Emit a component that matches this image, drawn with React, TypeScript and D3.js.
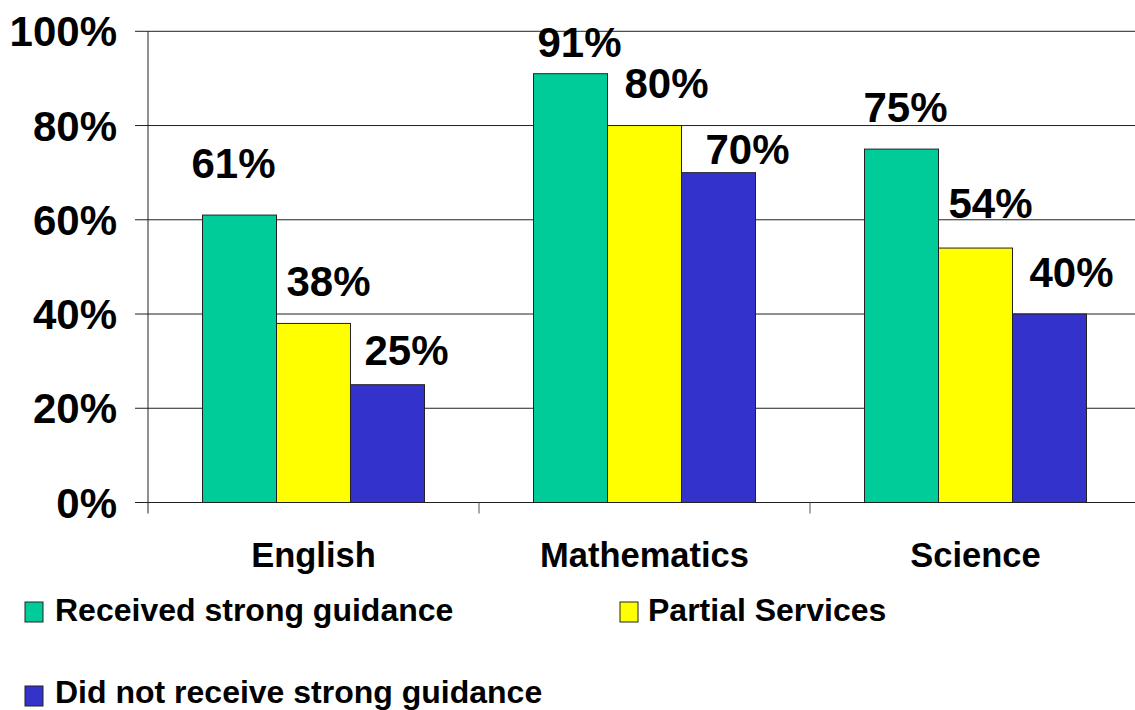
import React from "react";
import * as d3 from "d3";

const categories = ["English", "Mathematics", "Science"];
const seriesNames = ["Received strong guidance", "Partial Services", "Did not receive strong guidance"];
const receivedStrong = [0.61, 0.91, 0.75];
const partialServices = [0.38, 0.80, 0.54];
const didNotReceive = [0.25, 0.70, 0.40];
const yTicks = [0, 0.2, 0.4, 0.6, 0.8, 1.0];
const seriesColors = ["#00CC99", "#FFFF00", "#3333CC"];

// layout nudges for data labels [category][series] : [dx from bar center, gap above bar top]
const labelNudge: number[][][] = [
  [[-6, 37], [15, 27], [19, 20]],
  [[9, 17], [22, 28], [29, 9]],
  [[4, 27], [15, 30], [22, 27]],
];

const W = 1135;
const H = 710;
const plotLeft = 148;
const plotRight = 1141;
const plotTop = 31.3;
const plotBottom = 502.5;
const FONT = "'Liberation Sans', Arial, Helvetica, sans-serif";

export default function App() {
  React.useEffect(() => {
    document.body.style.margin = "0";
  }, []);
  const seriesValues = [receivedStrong, partialServices, didNotReceive];
  const x = d3.scaleBand<string>().domain(categories).range([plotLeft, plotRight]).padding(0);
  const step = x.bandwidth();
  const groupW = 222;
  const inner = d3
    .scaleBand<number>()
    .domain([0, 1, 2])
    .range([(step - groupW) / 2, (step + groupW) / 2])
    .padding(0);
  const y = d3.scaleLinear().domain([0, 1]).range([plotBottom, plotTop]);
  const fmt = d3.format(".0%");

  const legendItems = [
    { sx: 25, sy: 602, tx: 55, ty: 621 },
    { sx: 620, sy: 602, tx: 648, ty: 621 },
    { sx: 25, sy: 686, tx: 55, ty: 703 },
  ];

  return (
    <svg width={W} height={H} style={{ display: "block", position: "absolute", left: 0, top: 0 }} fontFamily={FONT}>
      <rect x={0} y={0} width={W} height={H} fill="#fff" />
      {/* gridlines */}
      {yTicks.slice(1).map((t) => (
        <line key={t} x1={plotLeft - 13} x2={plotRight} y1={y(t)} y2={y(t)} stroke="#222" strokeWidth={1} />
      ))}
      {/* bars */}
      {categories.map((c, ci) =>
        seriesValues.map((vals, si) => {
          const bx = (x(c) as number) + (inner(si) as number);
          const by = y(vals[ci]);
          return (
            <rect
              key={c + si}
              x={bx}
              y={by}
              width={inner.bandwidth()}
              height={plotBottom - by}
              fill={seriesColors[si]}
              stroke="#222"
              strokeWidth={1}
            />
          );
        })
      )}
      {/* y axis */}
      <line x1={plotLeft} x2={plotLeft} y1={plotTop} y2={plotBottom + 11} stroke="#222" strokeWidth={1} />
      <line x1={plotLeft - 13} x2={plotRight} y1={plotBottom} y2={plotBottom} stroke="#222" strokeWidth={1} />
      {/* category ticks */}
      {categories.slice(1).map((c) => (
        <line key={c} x1={x(c) as number} x2={x(c) as number} y1={plotBottom} y2={plotBottom + 11} stroke="#555" strokeWidth={1} />
      ))}
      {/* y tick labels */}
      {yTicks.map((t) => (
        <text key={t} x={117} y={y(t) + 15} textAnchor="end" fontSize={42} fontWeight="bold" fill="#000">
          {fmt(t)}
        </text>
      ))}
      {/* category labels */}
      {categories.map((c) => (
        <text key={c} x={(x(c) as number) + step / 2} y={567} textAnchor="middle" fontSize={34.5} fontWeight="bold" fill="#000">
          {c}
        </text>
      ))}
      {/* data labels */}
      {categories.map((c, ci) =>
        seriesValues.map((vals, si) => {
          const cx = (x(c) as number) + (inner(si) as number) + inner.bandwidth() / 2;
          const [dx, gap] = labelNudge[ci][si];
          return (
            <text key={"l" + c + si} x={cx + dx} y={y(vals[ci]) - gap} textAnchor="middle" fontSize={42} fontWeight="bold" fill="#000">
              {fmt(vals[ci])}
            </text>
          );
        })
      )}
      {/* legend */}
      {seriesNames.map((n, i) => (
        <g key={n}>
          <rect x={legendItems[i].sx} y={legendItems[i].sy} width={18} height={20} fill={seriesColors[i]} stroke="#222" strokeWidth={1} />
          <text x={legendItems[i].tx} y={legendItems[i].ty} fontSize={32} fontWeight="bold" fill="#000">
            {n}
          </text>
        </g>
      ))}
    </svg>
  );
}
